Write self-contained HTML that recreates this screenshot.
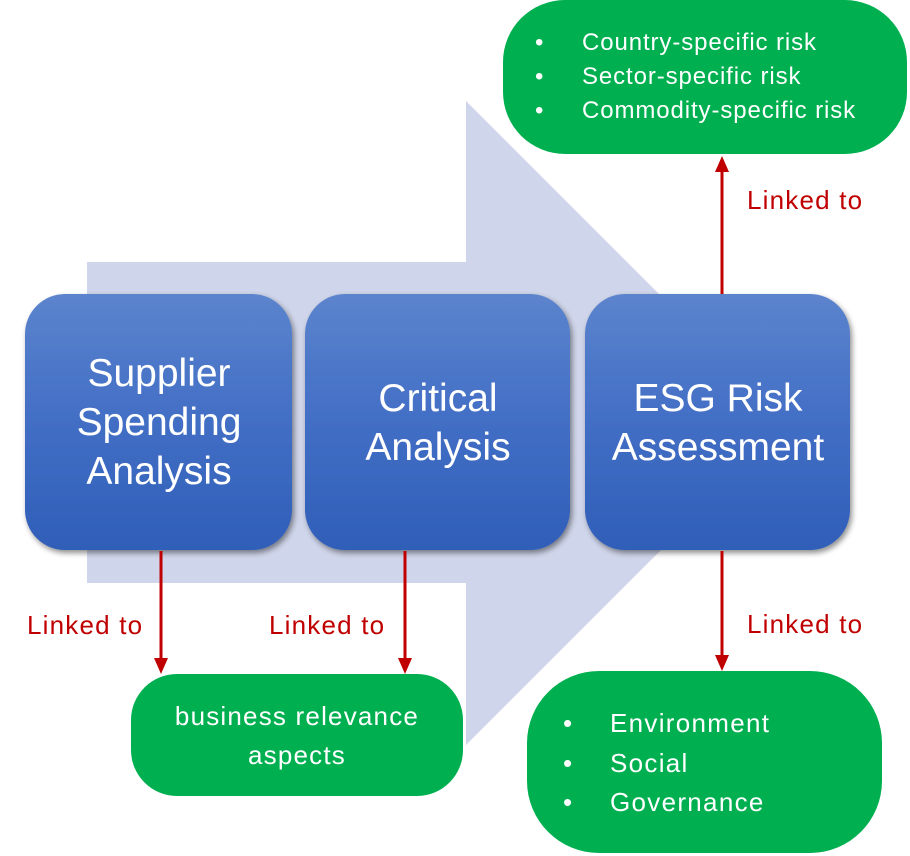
<!DOCTYPE html>
<html><head><meta charset="utf-8"><style>
html,body{margin:0;padding:0;background:#fff;}
svg{display:block;}
text{font-family:"Liberation Sans",sans-serif;}
</style></head><body>
<svg width="910" height="856" viewBox="0 0 910 856" xmlns="http://www.w3.org/2000/svg">
<defs>
<linearGradient id="bg" x1="0" y1="0" x2="0" y2="1">
<stop offset="0" stop-color="#5C84CD"/>
<stop offset="0.45" stop-color="#4470C6"/>
<stop offset="1" stop-color="#2F5EB8"/>
</linearGradient>
<filter id="sh" x="-10%" y="-10%" width="125%" height="125%">
<feGaussianBlur in="SourceAlpha" stdDeviation="3"/>
<feOffset dx="2" dy="3" result="o"/>
<feComponentTransfer><feFuncA type="linear" slope="0.45"/></feComponentTransfer>
<feMerge><feMergeNode/><feMergeNode in="SourceGraphic"/></feMerge>
</filter>
</defs>

<!-- big background arrow -->
<polygon points="87,262 466,262 466,101 788,423 466,745 466,583 87,583" fill="#CFD5EA"/>

<!-- blue boxes -->
<rect x="25" y="294" width="267" height="256" rx="40" fill="url(#bg)" filter="url(#sh)"/>
<rect x="305" y="294" width="265" height="256" rx="40" fill="url(#bg)" filter="url(#sh)"/>
<rect x="585" y="294" width="265" height="256" rx="40" fill="url(#bg)" filter="url(#sh)"/>

<g fill="#fff" font-size="39" text-anchor="middle">
<text x="159" y="386">Supplier</text>
<text x="159" y="435">Spending</text>
<text x="159" y="484">Analysis</text>
<text x="438" y="411">Critical</text>
<text x="438" y="460">Analysis</text>
<text x="718" y="411">ESG Risk</text>
<text x="718" y="460">Assessment</text>
</g>

<!-- green boxes -->
<rect x="503" y="0" width="404" height="154" rx="62" fill="#00B050"/>
<rect x="131" y="674" width="332" height="122" rx="46" fill="#00B050"/>
<rect x="527" y="671" width="355" height="182" rx="72" fill="#00B050"/>

<g fill="#fff" font-size="24" letter-spacing="0.9">
<text x="535" y="50">•</text><text x="582" y="50">Country-specific risk</text>
<text x="535" y="84">•</text><text x="582" y="84">Sector-specific risk</text>
<text x="535" y="118">•</text><text x="582" y="118">Commodity-specific risk</text>
</g>
<g fill="#fff" font-size="26" letter-spacing="1.2" text-anchor="middle">
<text x="297" y="725">business relevance</text>
<text x="297" y="764">aspects</text>
</g>
<g fill="#fff" font-size="26" letter-spacing="1.3">
<text x="563" y="732">•</text><text x="610" y="732">Environment</text>
<text x="563" y="772">•</text><text x="610" y="772">Social</text>
<text x="563" y="811">•</text><text x="610" y="811">Governance</text>
</g>

<!-- connectors -->
<g stroke="#C00000" stroke-width="3">
<line x1="161" y1="551" x2="161" y2="660"/>
<line x1="405" y1="551" x2="405" y2="660"/>
<line x1="722" y1="551" x2="722" y2="657"/>
<line x1="722" y1="294" x2="722" y2="170"/>
</g>
<g fill="#C00000">
<polygon points="154,658 168,658 161,674"/>
<polygon points="398,658 412,658 405,674"/>
<polygon points="715,655 729,655 722,671"/>
<polygon points="715,172 729,172 722,156"/>
</g>

<g fill="#C00000" font-size="26" letter-spacing="1.2">
<text x="747" y="209">Linked to</text>
<text x="27" y="634">Linked to</text>
<text x="269" y="634">Linked to</text>
<text x="747" y="633">Linked to</text>
</g>
</svg>
</body></html>
